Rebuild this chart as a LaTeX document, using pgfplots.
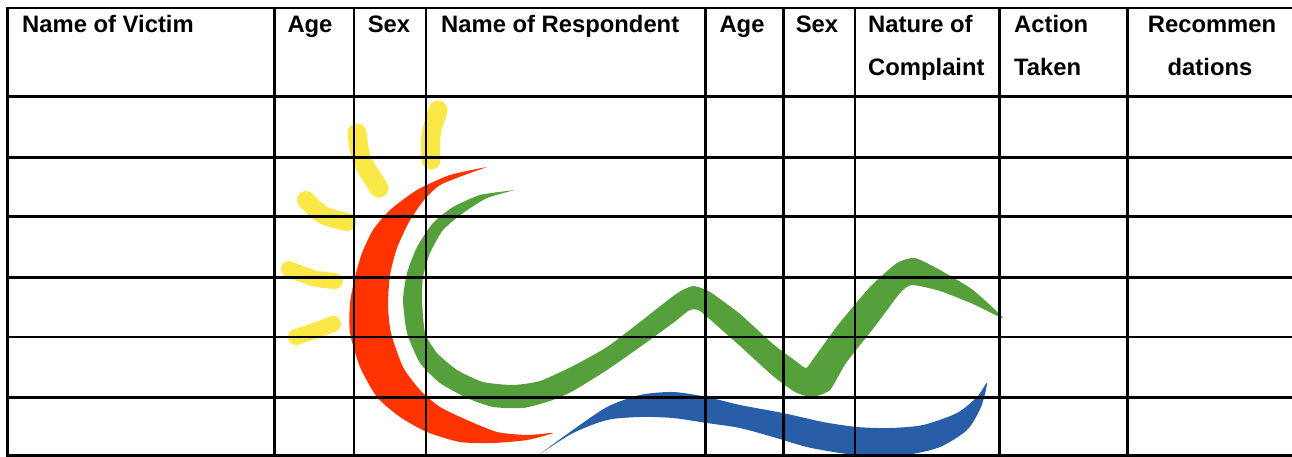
\documentclass[border=0pt]{standalone}
\usepackage{pgfplots}
\pgfplotsset{compat=1.18}
\usepackage{fontspec}
\setmainfont{Liberation Sans}

\definecolor{sunyellow}{RGB}{249,232,70}
\definecolor{logored}{RGB}{255,51,0}
\definecolor{logogreen}{RGB}{86,160,60}
\definecolor{logoblue}{RGB}{40,94,168}

\tikzset{hdr/.style={font=\fontsize{23.8}{28}\selectfont\bfseries, inner sep=0pt}}

\begin{document}
\begin{tikzpicture}
\begin{axis}[
  width=1292pt, height=456pt, scale only axis,
  xmin=0, xmax=1292, ymin=0, ymax=456,
  y dir=reverse,
  hide axis,
  clip=true,
  unbounded coords=jump,
  every axis plot/.append style={forget plot},
]

% white page
\addplot[fill=white, draw=none] coordinates {(0,0) (1292,0) (1292,456) (0,456)} -- cycle;

% --- logo watermark ---
% sun rays
\addplot[sunyellow, line width=19pt, line cap=round, smooth] coordinates {(438,110) (431,135) (431,160)};
\addplot[sunyellow, line width=19pt, line cap=round, smooth] coordinates {(357,133) (362,160) (379,188)};
\addplot[sunyellow, line width=18pt, line cap=round, smooth] coordinates {(306,200) (323,215) (347,222)};
\addplot[sunyellow, line width=16pt, line cap=round, smooth] coordinates {(289,269) (313,278) (335,281)};
\addplot[sunyellow, line width=16pt, line cap=round, smooth] coordinates {(296,337) (317,330) (333,324)};

% red crescent
\addplot[fill=logored, draw=none, smooth, tension=0.4] coordinates {
  (487,167) (450,175) (417,190) (390,210) (373,230) (362,253) (355,277)
  (350,303) (350,333) (360,367) (377,397) (400,417) (427,432) (460,442)
  (493,443) (527,440) (553,433)
  (527,435) (497,432) (467,420) (440,407) (420,390) (403,367) (391,333)
  (388,305) (390,275) (397,248) (409,222) (424,200) (442,184) (487,167)
} -- cycle;

% green wave
\addplot[fill=logogreen, draw=none, smooth, tension=0.35] coordinates {
  (515,190) (480,195) (453,207) (433,223) (417,247) (407,273) (403,300)
  (407,333) (420,363) (440,383) (467,398) (493,407) (523,408) (550,401)
  (573,391) (607,370) (640,347) (673,323) (690,310) (700,311) (723,331)
  (740,346) (773,376) (795,392) (812,397) (830,390) (846,363) (876,325)
  (900,293) (912,285) (940,291) (973,304) (1003,318)
  (973,290) (940,270) (915,258) (897,263) (870,287) (838,325) (814,358)
  (806,368) (797,362) (773,344) (740,314) (710,292) (693,286) (676,294)
  (640,322) (607,347) (573,366) (540,381) (513,385) (483,382) (457,370)
  (437,353) (425,333) (422,300) (423,277) (430,253) (443,230) (463,213)
  (487,198) (515,190)
} -- cycle;

% blue wave
\addplot[fill=logoblue, draw=none, smooth, tension=0.45] coordinates {
  (540,454) (570,432) (607,407) (640,395) (673,392) (707,397) (740,405)
  (783,413) (823,422) (857,427) (890,428) (923,425) (957,413) (977,397) (987,383)
  (981,407) (967,430) (940,447) (907,455) (873,457) (840,453) (807,447)
  (773,437) (740,428) (707,423) (673,418) (640,417) (607,420) (573,433) (540,454)
} -- cycle;

% --- table rules ---
\addplot[black, line width=2.9pt] coordinates {
  (6,8) (1300,8) (nan,nan)
  (6,96.3) (1300,96.3) (nan,nan)
  (6,157.3) (1300,157.3) (nan,nan)
  (6,216.8) (1300,216.8) (nan,nan)
  (6,277.3) (1300,277.3) (nan,nan)
  (6,337) (1300,337) (nan,nan)
  (6,397.3) (1300,397.3) (nan,nan)
  (6,455.8) (1300,455.8)
};
\addplot[black, line width=2.9pt] coordinates {
  (7.5,6.5) (7.5,470) (nan,nan)
  (274.5,6.5) (274.5,470) (nan,nan)
  (354,6.5) (354,470) (nan,nan)
  (426,6.5) (426,470) (nan,nan)
  (705.7,6.5) (705.7,470) (nan,nan)
  (783.3,6.5) (783.3,470) (nan,nan)
  (855,6.5) (855,470) (nan,nan)
  (999.5,6.5) (999.5,470) (nan,nan)
  (1127.3,6.5) (1127.3,470)
};

% --- header text ---
\node[hdr, anchor=base west] at (axis cs:22,32.5) {Name of Victim};
\node[hdr, anchor=base] at (axis cs:310,32.5) {Age};
\node[hdr, anchor=base] at (axis cs:389,32.5) {Sex};
\node[hdr, anchor=base west] at (axis cs:441,32.5) {Name of Respondent};
\node[hdr, anchor=base] at (axis cs:742,32.5) {Age};
\node[hdr, anchor=base] at (axis cs:817,32.5) {Sex};
\node[hdr, anchor=base west] at (axis cs:868,32.5) {Nature of};
\node[hdr, anchor=base west] at (axis cs:868,75) {Complaint};
\node[hdr, anchor=base west] at (axis cs:1014,32.5) {Action};
\node[hdr, anchor=base west] at (axis cs:1014,75) {Taken};
\node[hdr, anchor=base] at (axis cs:1212,32.5) {Recommen};
\node[hdr, anchor=base] at (axis cs:1210,75) {dations};

\end{axis}
\end{tikzpicture}
\end{document}
